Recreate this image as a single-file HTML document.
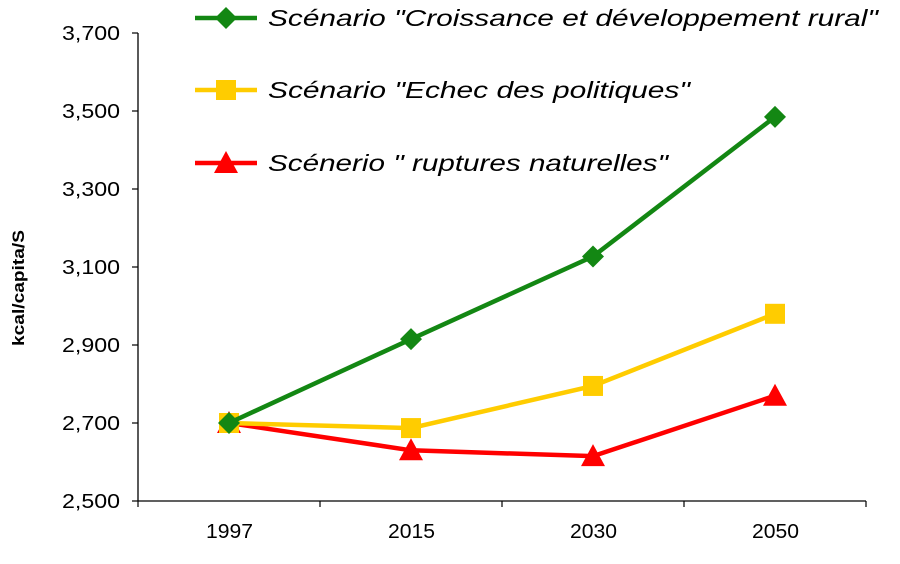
<!DOCTYPE html>
<html><head><meta charset="utf-8"><style>
body{margin:0;background:#fff;}
svg text{font-family:"Liberation Sans",sans-serif;}
</style></head><body>
<svg id="chart" width="900" height="559" viewBox="0 0 900 559" xmlns="http://www.w3.org/2000/svg">
<g id="axes"></g><g id="series"></g><g id="legend"></g>
</svg>
<script>
const categories = ["1997","2015","2030","2050"];
const yTicks = [2500,2700,2900,3100,3300,3500,3700];
const yTickLabels = ["2,500","2,700","2,900","3,100","3,300","3,500","3,700"];
const croissance = [2700,2915,3127,3485];
const echec = [2700,2687,2795,2980];
const ruptures = [2700,2630,2615,2770];
const seriesNames = ['Scénario "Croissance et développement rural"','Scénario "Echec des politiques"','Scénerio " ruptures naturelles"'];

const NS="http://www.w3.org/2000/svg";
const L=138,R=866,T=33,B=501,yMin=2500,yMax=3700;
const band=(R-L)/categories.length;
const x=i=>L+band*(i+0.5);
const y=v=>B-(v-yMin)/(yMax-yMin)*(B-T);
function mk(tag,attrs,parent){const e=document.createElementNS(NS,tag);for(const k in attrs)e.setAttribute(k,attrs[k]);parent.appendChild(e);return e;}
const axes=document.getElementById('axes');
let e=mk('line',{x1:L,y1:T,x2:L,y2:B,stroke:'#000','stroke-width':1.3},axes);


e=mk('line',{x1:L,y1:B,x2:R,y2:B,stroke:'#000','stroke-width':1.3},axes);


yTicks.forEach((v,i)=>{
  mk('line',{x1:L-6,y1:y(v),x2:L,y2:y(v),stroke:'#000','stroke-width':1.2},axes);
  const t=mk('text',{x:120,y:y(v)+7,'text-anchor':'end','font-size':20,fill:'#000',textLength:58,lengthAdjust:'spacingAndGlyphs'},axes);
  t.textContent=yTickLabels[i];
  
  
});
for(let i=0;i<=categories.length;i++){mk('line',{x1:L+band*i,y1:B,x2:L+band*i,y2:B+6,stroke:'#000','stroke-width':1.2},axes);}
categories.forEach((c,i)=>{
  const t=mk('text',{x:x(i)-23,y:B+37,'font-size':20,fill:'#000',textLength:47,lengthAdjust:'spacingAndGlyphs'},axes);
  t.textContent=c;
  
  
});
const yt=mk('text',{x:-58,y:0,transform:'translate(24,288) rotate(-90)','font-size':17,'font-weight':'bold',fill:'#000',textLength:116,lengthAdjust:'spacingAndGlyphs'},axes);
yt.textContent='kcal/capita/S';



function marker(kind,cx,cy,color,parent){
  if(kind==='diamond')return mk('polygon',{points:`${cx},${cy-11} ${cx+11},${cy} ${cx},${cy+11} ${cx-11},${cy}`,fill:color},parent);
  if(kind==='square')return mk('rect',{x:cx-10,y:cy-10,width:20,height:20,fill:color},parent);
  return mk('polygon',{points:`${cx},${cy-12} ${cx+12},${cy+10} ${cx-12},${cy+10}`,fill:color},parent);
}
const sers=[[croissance,'#138713','diamond','series-croissance'],[echec,'#ffcc00','square','series-echec'],[ruptures,'#ff0000','triangle','series-ruptures']];
const sg=document.getElementById('series');
sers.slice().reverse().forEach(([vals,col,kind,name])=>{
  const g=mk('g',{},sg);
  
  
  mk('polyline',{points:vals.map((v,i)=>x(i)+','+y(v)).join(' '),fill:'none',stroke:col,'stroke-width':4.5},g);
  vals.forEach((v,i)=>{const m=marker(kind,x(i),y(v),col,g);
    
    });
});
const lg=document.getElementById('legend');
const ly=[18,90,163];
const lw=[610,422,400];
sers.forEach(([vals,col,kind,name],i)=>{
  const g=mk('g',{},lg);
  
  
  mk('line',{x1:195,y1:ly[i],x2:257,y2:ly[i],stroke:col,'stroke-width':4.5},g);
  marker(kind,226,ly[i],col,g);
  const t=mk('text',{x:268,y:ly[i]+8,'font-size':23,'font-style':'italic',fill:'#000',textLength:lw[i],lengthAdjust:'spacingAndGlyphs'},g);
  t.textContent=seriesNames[i];
});
</script>
</body></html>
